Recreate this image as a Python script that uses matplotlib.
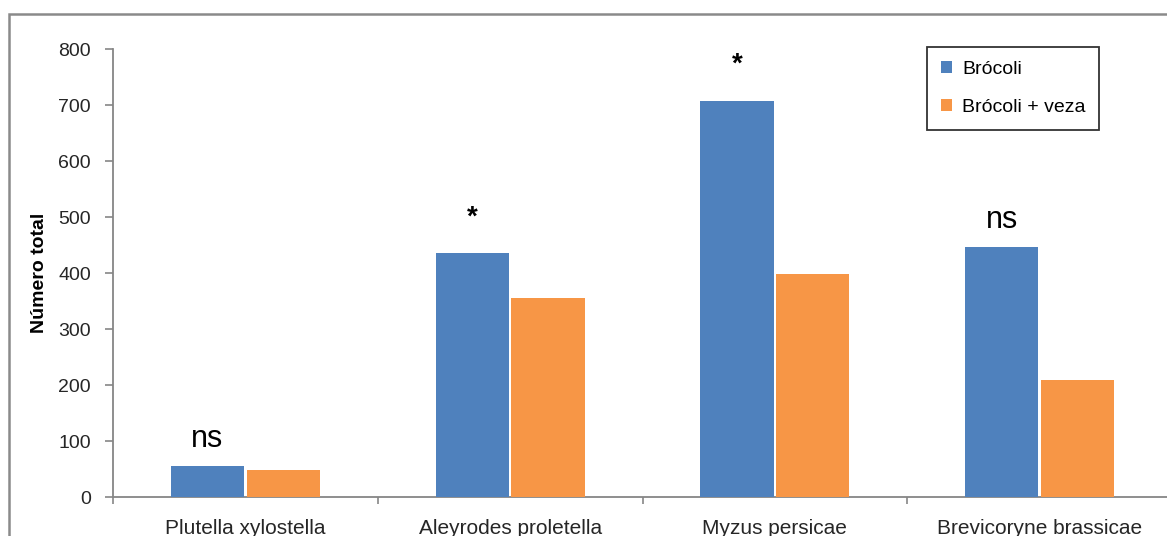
import numpy as np
import matplotlib.pyplot as plt
from matplotlib.patches import Rectangle

plt.rcParams['font.family'] = ['Liberation Sans', 'DejaVu Sans']

especies = ["Plutella xylostella", "Aleyrodes proletella", "Myzus persicae", "Brevicoryne brassicae"]
brocoli = [55, 436, 708, 446]
brocoli_veza = [49, 355, 398, 209]
signif = ["ns", "*", "*", "ns"]

azul = '#4F81BD'
naranja = '#F79646'
gris = '#868686'

W, H = 1167, 536
fig = plt.figure(figsize=(W / 100, H / 100), dpi=100)

# marco del grafico (recortado a la derecha y abajo)
fig.patches.append(Rectangle((9 / W, -0.1), 1.2, (H - 14) / H + 0.1,
                             transform=fig.transFigure, fill=False,
                             edgecolor='#8a8a8a', linewidth=1.8))

ax = fig.add_axes([113 / W, (H - 497) / H, 1059 / W, 448 / H])

x = np.arange(len(especies))
w = 0.276
off = 0.143
ax.bar(x - off, brocoli, w, color=azul, label='Brócoli', zorder=3)
ax.bar(x + off, brocoli_veza, w, color=naranja, label='Brócoli + veza', zorder=3)

for i, s in enumerate(signif):
    if s == "ns":
        ax.text(x[i] - off, brocoli[i] + 21, s, ha='center', va='bottom', fontsize=22)
    else:
        ax.text(x[i] - off, brocoli[i] + 40, s, ha='center', va='bottom', fontsize=20,
                fontweight='bold')

ax.set_xlim(-0.5, len(especies) - 0.5)
ax.set_ylim(0, 800)
ax.set_yticks(np.arange(0, 801, 100))
ax.set_xticks(x)
ax.set_xticklabels(especies, fontsize=15)
ax.set_xticks(np.arange(-0.5, len(especies), 1), minor=True)
ax.tick_params(axis='x', which='major', length=0, pad=16)
ax.tick_params(axis='x', which='minor', length=5, color=gris, width=1.2)
ax.tick_params(axis='y', length=6, color=gris, width=1.2, labelsize=14, pad=10)
ax.tick_params(labelcolor='#262626')

for sp in ['top', 'right']:
    ax.spines[sp].set_visible(False)
for sp in ['left', 'bottom']:
    ax.spines[sp].set_color(gris)
    ax.spines[sp].set_linewidth(1.3)

ax.set_ylabel('Número total', fontsize=14, fontweight='bold', labelpad=7)

leg = ax.legend(loc='upper left', bbox_to_anchor=((927 - 113) / 1059, (497 - 47) / 448),
                frameon=True, fancybox=False, fontsize=14, handlelength=0.6,
                handleheight=0.6, handletextpad=0.5, labelspacing=1.1,
                borderpad=0.7, borderaxespad=0)
leg.get_frame().set_edgecolor('black')
leg.get_frame().set_linewidth(1.3)

fig.savefig('out.png', dpi=100)
